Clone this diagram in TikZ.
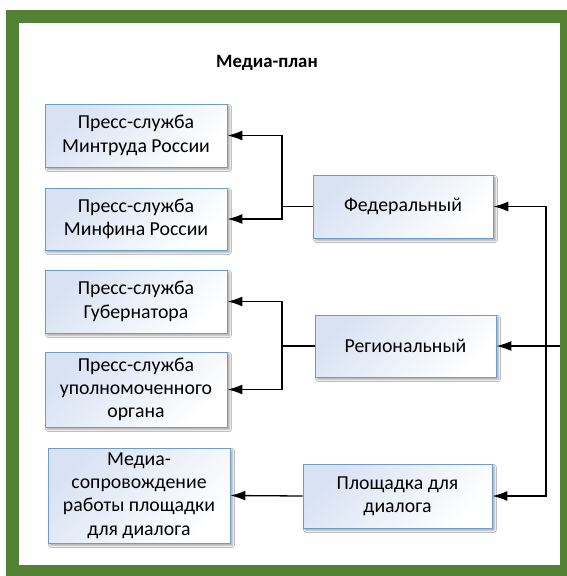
\documentclass[tikz,border=0pt]{standalone}
\usepackage{fontspec}
\setmainfont{Carlito}
\usepackage{xcolor}
\usepackage{tikz}
\usetikzlibrary{arrows.meta, shadows.blur, positioning}

\definecolor{ramka}{HTML}{548235}
\definecolor{kontur}{HTML}{6A9BD1}
\definecolor{zalivka}{HTML}{D8E2F3}

\tikzset{
    pbox/.style={draw=kontur, line width=0.9pt, top color=zalivka, bottom color=white,
        shading angle=45, align=center, inner sep=2pt,
        blur shadow={shadow xshift=2.5pt, shadow yshift=-2.5pt, shadow blur steps=6, shadow opacity=35},
        font=\fontsize{19.8}{23.3}\selectfont},
    link/.style={line width=1.3pt}
}

\begin{document}
\begin{tikzpicture}[x=1pt, y=1pt, >={Latex[length=15pt, width=10pt]}]
    \useasboundingbox (0,0) rectangle (567,-576);
    % Рамка
    \fill[ramka] (6,-10) rectangle (567,-576);
    \fill[white] (19,-23) rectangle (560,-565);
    \node[font=\fontsize{18.8}{22}\selectfont\bfseries] (title) at (267,-63) {Медиа-план};

    % Уровни
    \node[pbox, minimum width=180pt, minimum height=63pt] (federal) at (403,-206.5) {Федеральный};
    \node[pbox, minimum width=181pt, minimum height=62pt] (region) at (405.5,-346) {Региональный};
    \node[pbox, minimum width=189pt, minimum height=64pt] (plosh) at (397.5,-496) {Площадка для\\диалога};

    % Пресс-службы
    \node[pbox, minimum width=182pt, minimum height=63pt] (mintrud) at (136,-135.5) {Пресс-служба\\Минтруда России};
    \node[pbox, minimum width=182pt, minimum height=62pt] (minfin) at (136,-219) {Пресс-служба\\Минфина России};
    \node[pbox, minimum width=182pt, minimum height=63pt] (gubern) at (136,-301.5) {Пресс-служба\\Губернатора};
    \node[pbox, minimum width=182pt, minimum height=75pt] (upoln) at (136,-389.5) {Пресс-служба\\уполномоченного\\органа};
    \node[pbox, minimum width=182pt, minimum height=95pt] (soprov) at (139,-495.5) {Медиа-\\сопровождение\\работы площадки\\для диалога};

    % Связи
    \coordinate (fj) at (282,-206.5);
    \coordinate (rj) at (282,-346);
    \coordinate (tr) at (546,-346);
    \coordinate (src) at (560,-346);
    \draw[link] (federal.west) -- (fj);
    \draw[link, ->] (fj) |- (mintrud.east);
    \draw[link, ->] (fj) |- (minfin.east);
    \draw[link] (region.west) -- (rj);
    \draw[link, ->] (rj) |- (gubern.east);
    \draw[link, ->] (rj) |- (upoln.east);
    \draw[link, ->] (plosh.west) -- (soprov.east);
    \draw[link, ->] (src) -- (region.east);
    \draw[link, ->] (tr) |- (federal.east);
    \draw[link, ->] (tr) |- (plosh.east);
\end{tikzpicture}
\end{document}
